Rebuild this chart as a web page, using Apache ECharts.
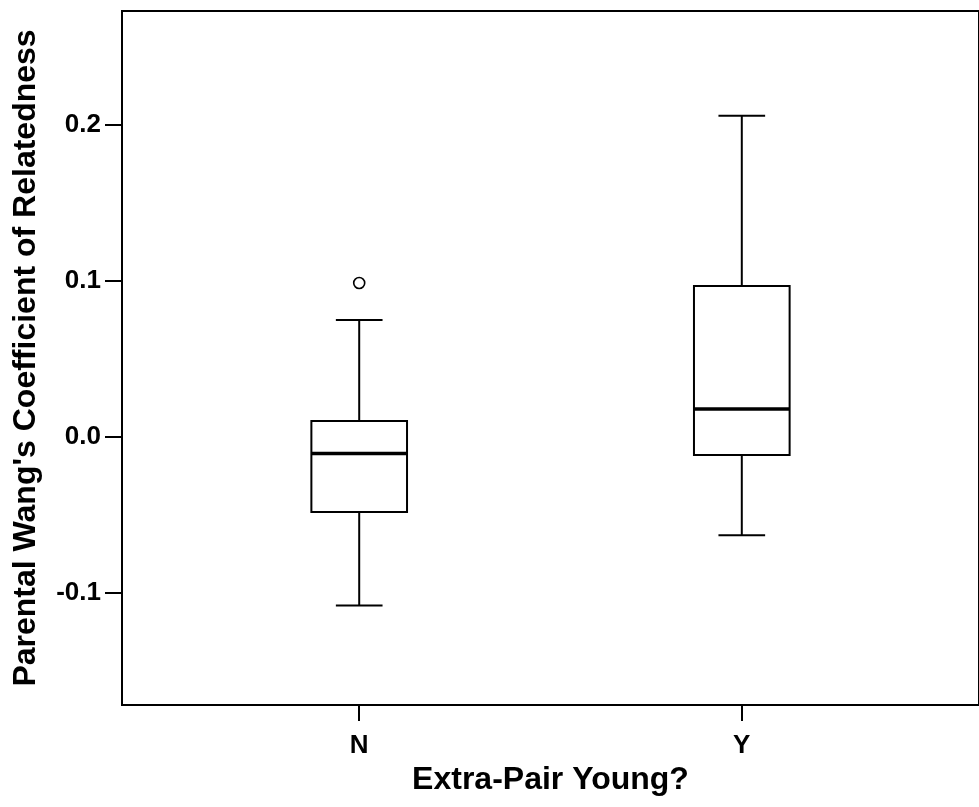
<!DOCTYPE html>
<html>
<head>
<meta charset="utf-8">
<script src="https://cdn.jsdelivr.net/npm/echarts@6/dist/echarts.min.js"></script>
<style>
  html, body { margin: 0; padding: 0; background: #fff; }
  #chart { width: 979px; height: 807px; }
</style>
</head>
<body>
<div id="chart"></div>
<script>
// Groups along the x axis
const categories = ['N', 'Y'];

// Five-number summaries per group: [min whisker, Q1, median, Q3, max whisker]
const boxStats = [
  [-0.108, -0.048, -0.0105, 0.0103, 0.075],
  [-0.063, -0.0115, 0.018, 0.0968, 0.206]
];

// Outliers: [group index, value]
const outliers = [
  [0, 0.0987]
];

// Y tick labels
const yTicks = [-0.1, 0.0, 0.1, 0.2];

const FONT = '"Liberation Sans", Arial, Helvetica, sans-serif';

const boxData = boxStats.map((s, i) => [i].concat(s));

function renderBox(params, api) {
  const idx = api.value(0);
  const lo = api.coord([idx, api.value(1)]);
  const q1 = api.coord([idx, api.value(2)]);
  const med = api.coord([idx, api.value(3)]);
  const q3 = api.coord([idx, api.value(4)]);
  const hi = api.coord([idx, api.value(5)]);
  const halfBox = api.size([0.25, 0])[0] / 2;
  const halfCap = api.size([0.122, 0])[0] / 2;
  const x = lo[0];
  const lineStyle = { stroke: '#000', lineWidth: 2, fill: null };
  return {
    type: 'group',
    children: [
      // whiskers
      { type: 'line', shape: { x1: x, y1: q3[1], x2: x, y2: hi[1] }, style: lineStyle },
      { type: 'line', shape: { x1: x, y1: q1[1], x2: x, y2: lo[1] }, style: lineStyle },
      // caps
      { type: 'line', shape: { x1: x - halfCap, y1: hi[1], x2: x + halfCap, y2: hi[1] }, style: lineStyle },
      { type: 'line', shape: { x1: x - halfCap, y1: lo[1], x2: x + halfCap, y2: lo[1] }, style: lineStyle },
      // box
      { type: 'rect', shape: { x: x - halfBox, y: q3[1], width: halfBox * 2, height: q1[1] - q3[1] },
        style: { stroke: '#000', lineWidth: 2, fill: '#fff' } },
      // median
      { type: 'line', shape: { x1: x - halfBox, y1: med[1], x2: x + halfBox, y2: med[1] },
        style: { stroke: '#000', lineWidth: 3.5 } }
    ]
  };
}

const chart = echarts.init(document.getElementById('chart'), null, { renderer: 'canvas' });

chart.setOption({
  backgroundColor: '#fff',
  animation: false,
  grid: {
    left: 122,
    top: 11,
    bottom: 102,
    width: 868,
    show: true,
    borderColor: '#000',
    borderWidth: 2,
    backgroundColor: '#fff'
  },
  xAxis: {
    type: 'value',
    min: -0.62,
    max: 1.62,
    splitLine: { show: false },
    axisLine: { show: true, onZero: false, lineStyle: { color: '#000', width: 2 } },
    axisTick: { show: true, length: 16, customValues: categories.map((c, i) => i), lineStyle: { color: '#000', width: 2 } },
    axisLabel: {
      customValues: categories.map((c, i) => i),
      formatter: v => categories[Math.round(v)] || '',
      color: '#000', fontFamily: FONT, fontWeight: 'bold', fontSize: 26, margin: 28
    },
    name: 'Extra-Pair Young?',
    nameLocation: 'middle',
    nameGap: 58,
    nameTextStyle: { color: '#000', fontFamily: FONT, fontWeight: 'bold', fontSize: 32 }
  },
  yAxis: {
    type: 'value',
    min: -0.1718,
    max: 0.2731,
    splitLine: { show: false },
    axisLine: { show: true, onZero: false, lineStyle: { color: '#000', width: 2 } },
    axisTick: { show: true, length: 17, customValues: yTicks, lineStyle: { color: '#000', width: 2 } },
    axisLabel: {
      customValues: yTicks,
      formatter: v => v.toFixed(1),
      color: '#000', fontFamily: FONT, fontWeight: 'bold', fontSize: 26, margin: 21
    },
    name: "Parental Wang's Coefficient of Relatedness",
    nameLocation: 'middle',
    nameGap: 80,
    nameTextStyle: { color: '#000', fontFamily: FONT, fontWeight: 'bold', fontSize: 32 }
  },
  series: [
    {
      type: 'custom',
      renderItem: renderBox,
      encode: { x: 0, y: [1, 2, 3, 4, 5] },
      data: boxData,
      z: 3
    },
    {
      type: 'scatter',
      data: outliers,
      symbol: 'circle',
      symbolSize: 11,
      itemStyle: { color: '#fff', borderColor: '#000', borderWidth: 1.6, opacity: 1 },
      z: 4
    }
  ]
});
</script>
</body>
</html>
